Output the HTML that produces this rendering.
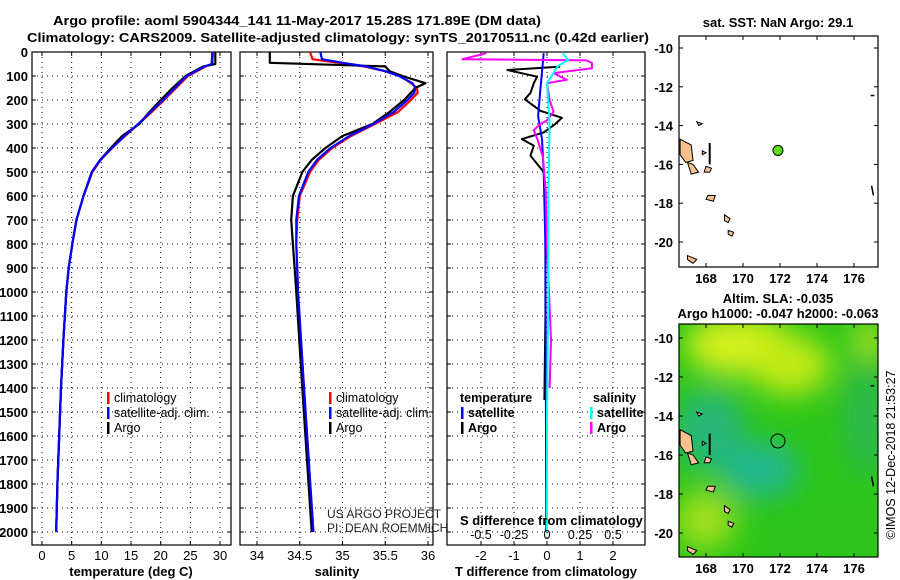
<!DOCTYPE html>
<html><head><meta charset="utf-8"><style>
html,body{margin:0;padding:0;background:#fff;}
svg{display:block;font-family:"Liberation Sans",sans-serif;}
.b{font-weight:bold;font-size:13px;}
</style></head><body>
<svg id="c" width="900" height="580" viewBox="0 0 900 580" xmlns="http://www.w3.org/2000/svg">
<text x="53" y="25" class="b" textLength="488" lengthAdjust="spacingAndGlyphs">Argo profile: aoml 5904344_141 11-May-2017 15.28S 171.89E (DM data)</text>
<text x="27" y="42" class="b" textLength="622" lengthAdjust="spacingAndGlyphs">Climatology: CARS2009. Satellite-adjusted climatology: synTS_20170511.nc (0.42d earlier)</text>
<g id="plots"></g>
</svg>
<script>
// ---- data ----
const depthT = [0,50,60,100,150,200,250,300,350,400,450,500,600,700,800,900,1000,1200,1400,1600,1800,2000];
const climT  = [28.8,28.7,27.6,24.6,22.6,20.6,18.5,16.3,14.0,11.8,9.9,8.5,7.0,5.8,5.1,4.5,4.1,3.6,3.2,2.9,2.6,2.4];
const satT   = [28.7,28.6,27.4,24.4,22.4,20.4,18.3,16.2,13.9,11.8,9.8,8.4,7.0,5.8,5.1,4.5,4.1,3.6,3.2,2.9,2.6,2.4];
const argoT  = [29.2,29.2,27.2,24.2,22.0,20.0,18.1,16.4,13.5,11.6,9.8,8.4,7.0,5.8,5.1,4.5,4.1,3.6,3.2,2.9,2.6,2.4];
const depthS = [0,30,45,60,80,100,130,150,170,200,250,300,350,400,450,500,600,700,800,900,1000,1400,2000];
const climS  = [34.62,34.65,34.95,35.25,35.5,35.68,35.8,35.87,35.88,35.8,35.65,35.38,35.1,34.88,34.72,34.62,34.5,34.47,34.46,34.47,34.48,34.55,34.66];
const satS   = [34.74,34.76,35.0,35.28,35.5,35.66,35.82,35.85,35.84,35.76,35.6,35.36,35.08,34.86,34.7,34.6,34.49,34.46,34.46,34.47,34.48,34.55,34.66];
const argoS  = [34.15,34.15,34.15,35.5,35.55,35.7,35.97,35.85,35.8,35.72,35.55,35.35,35.0,34.8,34.64,34.53,34.42,34.4,34.42,34.44,34.46,34.53,34.64];
const depthDA = [61,75,103,130,170,197,245,274,300,335,363,390,432,500,583,800,1100,1450];
const argoTd  = [0.4,-1.2,-0.3,-0.4,-0.5,-0.67,-0.2,0.45,0.25,-0.1,-0.76,-0.4,-0.5,-0.1,-0.05,-0.05,-0.05,-0.08];
const depthDS = [5,156,267,363,500,800,1200,1600,2000];
const satTd   = [-0.1,-0.2,-0.27,-0.15,-0.1,-0.05,-0.04,-0.03,-0.02];
const depthMS = [5,30,35,46,68,88,116,130,200,249,285,300,326,368,440,580,800,1200,1400];
const argoSd  = [-0.46,-0.64,0.3,0.34,0.34,0.05,0.15,0.0,0.02,0.05,0.0,-0.05,-0.1,-0.07,-0.03,-0.01,0.0,0.03,0.02];
const depthCS = [5,33,60,130,300,600,1000,1500,2000];
const satSd   = [0.12,0.16,0.08,0.0,0.02,0.01,0.01,0.0,0.0];
const depthTicks = [0,100,200,300,400,500,600,700,800,900,1000,1100,1200,1300,1400,1500,1600,1700,1800,1900,2000];
const tTicks = [0,5,10,15,20,25,30];
const sTicks = [34,34.5,35,35.5,36];
const dTicks = [-2,-1,0,1,2];
const sdTicks = [-0.5,-0.25,0,0.25,0.5];
const sdTickLabels = ["-0.5","-0.25","0","0.25","0.5"];
const latTicks = [-10,-12,-14,-16,-18,-20];
const lonTicks = [168,170,172,174,176];
const floatPos = [171.89,-15.28];

const NS="http://www.w3.org/2000/svg";
const G=document.getElementById('plots');
function el(tag,attrs,parent,txt){const e=document.createElementNS(NS,tag);for(const k in attrs)e.setAttribute(k,attrs[k]);if(txt!==undefined)e.textContent=txt;(parent||G).appendChild(e);return e;}
const yD=d=>52+d*0.24;
const PB=545;
function lin(d0,d1,r0,r1){return v=>r0+(v-d0)*(r1-r0)/(d1-d0);}

function panel(name,x0,x1,xs,xticks,labels){
  const g=el('g',{});
  
  
  el('rect',{x:x0,y:52,width:x1-x0,height:PB-52,fill:'#fff',stroke:'#000','stroke-width':1.2},g);
  depthTicks.forEach(d=>{el('line',{x1:x0,x2:x1,y1:yD(d),y2:yD(d),stroke:'#000','stroke-dasharray':'1 4','stroke-width':1},g);
    el('line',{x1:x0,x2:x0+4,y1:yD(d),y2:yD(d),stroke:'#000'},g);el('line',{x1:x1-4,x2:x1,y1:yD(d),y2:yD(d),stroke:'#000'},g);});
  xticks.forEach((t,i)=>{const x=xs(t);el('line',{x1:x,x2:x,y1:52,y2:PB,stroke:'#000','stroke-dasharray':'1 4'},g);
    el('line',{x1:x,x2:x,y1:52,y2:56,stroke:'#000'},g);el('line',{x1:x,x2:x,y1:PB-4,y2:PB,stroke:'#000'},g);
    const lb=el('text',{x:x,y:560,'text-anchor':'middle','font-size':'13px'},g,labels?labels[i]:String(t));
    
    });
  return g;
}
function line(g,xs,xv,dv,color,name,w){
  const pts=xv.map((v,i)=>xs(v).toFixed(1)+','+yD(dv[i]).toFixed(1)).join(' ');
  const p=el('polyline',{points:pts,fill:'none',stroke:color,'stroke-width':w||2.2,'stroke-linejoin':'round'},g);
  
  
}
function legend(g,x,y,color,label,bold){
  el('rect',{x:x,y:y-10,width:2.5,height:12,fill:color},g);
  const t=el('text',{x:x+7,y:y,'font-size':'12.5px','font-weight':bold?'bold':'normal'},g,label);
  
  
}

depthTicks.forEach(d=>{const t=el('text',{x:28,y:yD(d)+5,'text-anchor':'end',class:'b','font-size':'13px'},G,String(d));
  
  });

// panel 1
const xT=lin(0,30,42,220);
const g1=panel('temperature-panel',32,231,xT,tTicks);
line(g1,xT,climT,depthT,'#f00','climatology-temp-line');
line(g1,xT,argoT,depthT,'#000','argo-temp-line');
line(g1,xT,satT,depthT,'#00f','satellite-temp-line');
legend(g1,107,402,'#f00','climatology');legend(g1,107,417,'#00f','satellite-adj. clim.');legend(g1,107,432,'#000','Argo');
el('text',{x:131,y:576,'text-anchor':'middle',class:'b'},g1,'temperature (deg C)');

// panel 2
const xS=lin(34,36,257,428);
const g2=panel('salinity-panel',240,433,xS,sTicks);
line(g2,xS,climS,depthS,'#f00','climatology-salinity-line');
line(g2,xS,argoS,depthS,'#000','argo-salinity-line');
line(g2,xS,satS,depthS,'#00f','satellite-salinity-line');
legend(g2,329,402,'#f00','climatology');legend(g2,329,417,'#00f','satellite-adj. clim.');legend(g2,329,432,'#000','Argo');
el('text',{x:337,y:576,'text-anchor':'middle',class:'b'},g2,'salinity');
el('text',{x:327,y:518,'font-size':'12px',fill:'#222'},g2,'US ARGO PROJECT');
el('text',{x:327,y:532,'font-size':'12px',fill:'#222'},g2,'PI: DEAN ROEMMICH');

// panel 3
const xD=lin(0,1,547,580);
const xSD=lin(0,0.25,547,580);
const g3=panel('difference-panel',447,645,xD,dTicks);
line(g3,xD,argoTd,depthDA,'#000','argo-temp-diff-line',2);
line(g3,xD,satTd,depthDS,'#00f','satellite-temp-diff-line',2);
line(g3,xSD,argoSd,depthMS,'#f0f','argo-salinity-diff-line',2);
line(g3,xSD,satSd,depthCS,'#0ff','satellite-salinity-diff-line',2);
el('text',{x:460,y:402,'font-size':'12.5px','font-weight':'bold'},g3,'temperature');
el('text',{x:593,y:402,'font-size':'12.5px','font-weight':'bold'},g3,'salinity');
legend(g3,461,417,'#00f','satellite',true);legend(g3,461,432,'#000','Argo',true);
legend(g3,590,417,'#0ff','satellite',true);legend(g3,590,432,'#f0f','Argo',true);
el('text',{x:460,y:525,class:'b','font-size':'12.5px'},g3,'S difference from climatology');
sdTicks.forEach((v,i)=>el('text',{x:xSD(v),y:539,'text-anchor':'middle','font-size':'12.5px'},g3,sdTickLabels[i]));
el('text',{x:546,y:576,'text-anchor':'middle',class:'b'},g3,'T difference from climatology');

// maps
const mx=lin(168,176,706,854);
function map(name){
  const g=el('g',{});
  
  
  return g;
}
function mapFrame(g,y0,y1,my){
  el('rect',{x:679,y:y0,width:199,height:y1-y0,fill:'none',stroke:'#000','stroke-width':1.2},g);
  latTicks.forEach(l=>{const y=my(l);el('line',{x1:679,x2:683,y1:y,y2:y,stroke:'#000'},g);el('line',{x1:874,x2:878,y1:y,y2:y,stroke:'#000'},g);
    el('text',{x:673,y:y+5,'text-anchor':'end',class:'b'},g,String(l));});
  lonTicks.forEach(l=>{const x=mx(l);el('line',{x1:x,x2:x,y1:y0,y2:y0+4,stroke:'#000'},g);el('line',{x1:x,x2:x,y1:y1-4,y2:y1,stroke:'#000'},g);
    el('text',{x:x,y:y1+16,'text-anchor':'middle',class:'b'},g,String(l));});
}
function islands(g,my){
  const isl=[[[166.6,-14.7],[167.2,-15.0],[167.3,-15.8],[166.9,-15.9],[166.6,-15.5]],[[167.0,-15.9],[167.3,-16.0],[167.6,-16.4],[167.2,-16.5]],
    [[168.0,-16.1],[168.3,-16.2],[168.2,-16.4],[167.9,-16.4]],[[168.1,-17.6],[168.5,-17.6],[168.4,-17.9],[168.0,-17.8]],
    [[169.0,-18.6],[169.3,-18.8],[169.2,-19.0],[169.0,-18.9]],[[169.2,-19.4],[169.5,-19.5],[169.4,-19.7],[169.2,-19.6]],
    [[167.0,-20.7],[167.5,-20.9],[167.3,-21.1],[167.0,-20.9]],[[167.8,-15.3],[168.0,-15.4],[167.8,-15.5]],[[167.5,-13.8],[167.8,-13.9],[167.6,-14.0]]];
  isl.forEach(p=>el('polygon',{points:p.map(q=>mx(q[0])+','+my(q[1])).join(' '),fill:'#f7c28e',stroke:'#000','stroke-width':1},g));
  el('line',{x1:mx(168.2),x2:mx(168.2),y1:my(-14.9),y2:my(-16.0),stroke:'#000','stroke-width':2},g);
  el('line',{x1:mx(176.95),x2:mx(177.05),y1:my(-17.1),y2:my(-17.6),stroke:'#000','stroke-width':1.5},g);
  el('line',{x1:mx(176.9),x2:mx(177.1),y1:my(-12.45),y2:my(-12.45),stroke:'#000','stroke-width':1.5},g);
}
// top map
const myA=lin(-10,-20,48,242);
const gA=map('sst-map');
mapFrame(gA,36,267,myA);
islands(gA,myA);
const dA=el('circle',{cx:mx(floatPos[0]),cy:myA(floatPos[1]),r:5,fill:'#5fdf1a',stroke:'#000'},gA);


el('text',{x:778,y:27,'text-anchor':'middle',class:'b'},gA,'sat. SST: NaN Argo: 29.1');
// bottom map
const myB=lin(-10,-20,338,533);
const gB=map('sla-map');
const defs=el('defs',{},gB);
const f=el('filter',{id:'bl',x:'-50%',y:'-50%',width:'200%',height:'200%'},defs);el('feGaussianBlur',{stdDeviation:14},f);
const cp=el('clipPath',{id:'cpB'},defs);el('rect',{x:679,y:324,width:199,height:233},cp);
const bg=el('g',{'clip-path':'url(#cpB)'},gB);
el('rect',{x:679,y:324,width:199,height:233,fill:'#2ec61a'},bg);
const blobs=el('g',{filter:'url(#bl)'},bg);
[[740,345,55,30,'#d6f01a'],[790,365,40,30,'#c2ea18'],[710,430,35,40,'#25b87a'],[760,470,40,28,'#20b890'],[705,520,30,30,'#a2e01a'],[865,420,20,60,'#2ab850'],[870,340,18,20,'#a8e020']]
 .forEach(b=>el('ellipse',{cx:b[0],cy:b[1],rx:b[2],ry:b[3],fill:b[4]},blobs));
mapFrame(gB,324,557,myB);
islands(gB,myB);
el('circle',{cx:mx(floatPos[0]),cy:myB(floatPos[1]),r:7,fill:'none',stroke:'#000'},gB);
el('text',{x:778,y:303,'text-anchor':'middle',class:'b'},gB,'Altim. SLA: -0.035');
el('text',{x:778,y:318,'text-anchor':'middle',class:'b'},gB,'Argo h1000: -0.047 h2000: -0.063');
el('text',{x:0,y:0,'font-size':'12.5px',transform:'translate(895,455) rotate(-90)','text-anchor':'middle'},gB,'©IMOS 12-Dec-2018 21:53:27');
</script>
</body></html>
